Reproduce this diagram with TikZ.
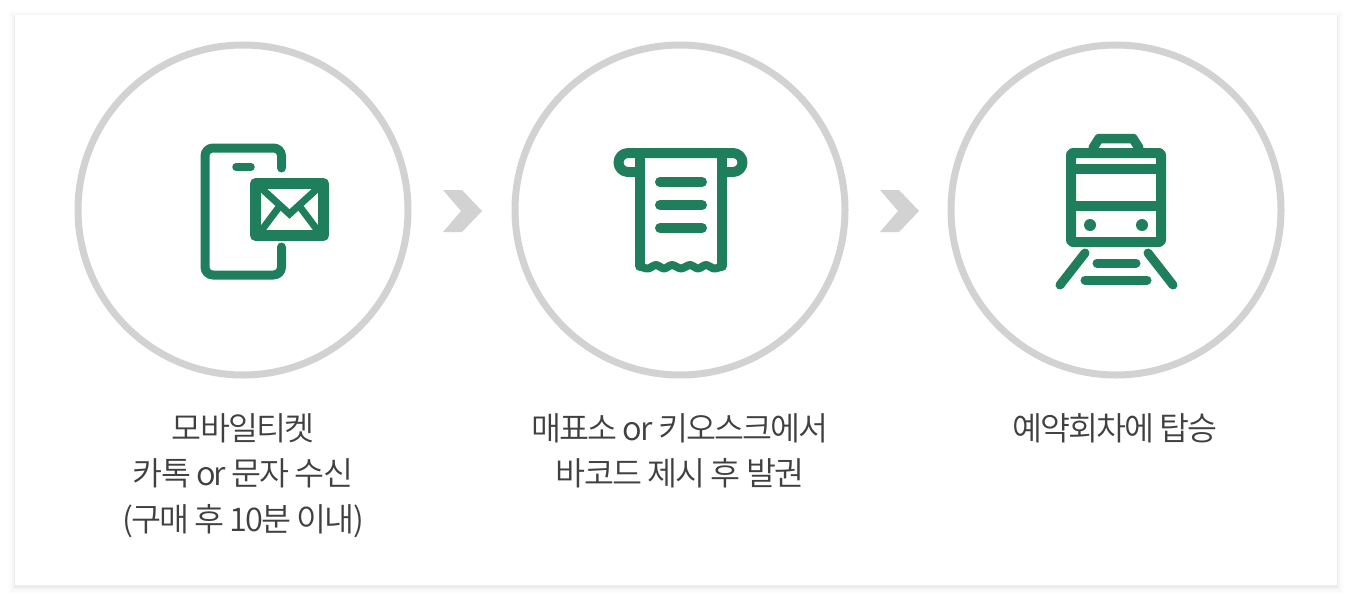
\documentclass[tikz,border=0pt]{standalone}
\usepackage{fontspec}
\setmainfont{Noto Sans CJK KR}[UprightFont={* DemiLight},LetterSpace=-6]
\definecolor{icongreen}{HTML}{1F7F5C}
\definecolor{ringgray}{HTML}{D2D2D2}
\definecolor{textgray}{HTML}{404040}
\tikzset{
	ring/.style={circle,draw=ringgray,line width=7pt,minimum size=330pt,inner sep=0pt},
	caption/.style={anchor=north,align=center,text=textgray,font=\fontsize{32.6pt}{45.5pt}\selectfont,inner sep=0pt},
	icon/.style={draw=icongreen,line cap=round,line join=round,line width=9pt},
	sep/.style={fill=ringgray}
}
\begin{document}
\begin{tikzpicture}[x=1pt,y=-1pt]
	\useasboundingbox (0,0) rectangle (1352,600);
	\fill[white] (0,0) rectangle (1352,600);
	% panel
	\foreach \d/\o in {7/0.008,5/0.012,3/0.02,1/0.035}
		\fill[black,opacity=\o] (15-\d,15-\d+2) rectangle (1337+\d,585+\d+2);
	\fill[white] (15,15) rectangle (1337,585);
	% rings
	\node[ring] (ringa) at (243,210) {};
	\node[ring] (ringb) at (680,210) {};
	\node[ring] (ringc) at (1116,210) {};
	% separators
	\foreach \s in {0,437}
		\fill[sep,xshift=\s pt] (443,190) -- (462,190) -- (482,211) -- (462,232) -- (443,232) -- (461,211) -- cycle;
	% phone
	\draw[icon] (281.5,168) -- (281.5,156) arc (0:-90:8) -- (213,148) arc (270:180:8) -- (205,267) arc (180:90:8) -- (273.5,275) arc (90:0:8) -- (281.5,247);
	\draw[icon,line width=7.5pt] (236,167) -- (251,167);
	\draw[icon,line width=11pt,line cap=butt] (255.5,183.5) rectangle (323.5,235.5);
	\draw[icon,line width=7pt,line cap=butt,line join=miter] (261,188) -- (289.5,214) -- (318,188);
	\draw[icon,line width=7pt,line cap=butt] (261,231) -- (279,207);
	\draw[icon,line width=7pt,line cap=butt] (318,231) -- (300,207);
	% receipt
	\draw[icon,line width=10pt] (640,172) -- (628,172) arc (90:270:9.5) -- (733,153) arc (270:450:9.5) -- (722,172);
	\draw[icon,line width=10pt] (640,153) -- (640,266);
	\draw[icon,line width=10pt] (722,153) -- (722,266);
	\draw[icon,line width=8pt] plot[smooth] coordinates {(640,266.5) (648,268.5) (656,265) (664,268.5) (672,265) (681,268.5) (690,265) (698,268.5) (706,265) (714,268.5) (722,266.5)};
	\foreach \y in {182,205,228}
		\draw[icon,line width=10pt] (660,\y) -- (702,\y);
	% train
	\draw[icon,line width=9.5pt,fill=white] (1093,148) -- (1099,138.5) -- (1133,138.5) -- (1139,148);
	\draw[icon,line width=10pt,rounded corners=2pt] (1071,153) rectangle (1161,242);
	\fill[icongreen] (1071,164) rectangle (1161,174);
	\fill[icongreen] (1071,201) rectangle (1161,211);
	\fill[icongreen] (1090,225) circle (6) (1142,225) circle (6);
	\draw[icon] (1085,253) -- (1060,285);
	\draw[icon] (1148,253) -- (1173,285);
	\draw[icon] (1097,263) -- (1136,263);
	\draw[icon] (1085,280) -- (1147,280);
	% captions
	\node[caption] (capa) at (243,413) {모바일티켓\\카톡 or 문자 수신\\(구매 후 10분 이내)};
	\node[caption] (capb) at (680,413) {매표소 or 키오스크에서\\바코드 제시 후 발권};
	\node[caption] (capc) at (1115,413) {예약회차에 탑승};
\end{tikzpicture}
\end{document}
